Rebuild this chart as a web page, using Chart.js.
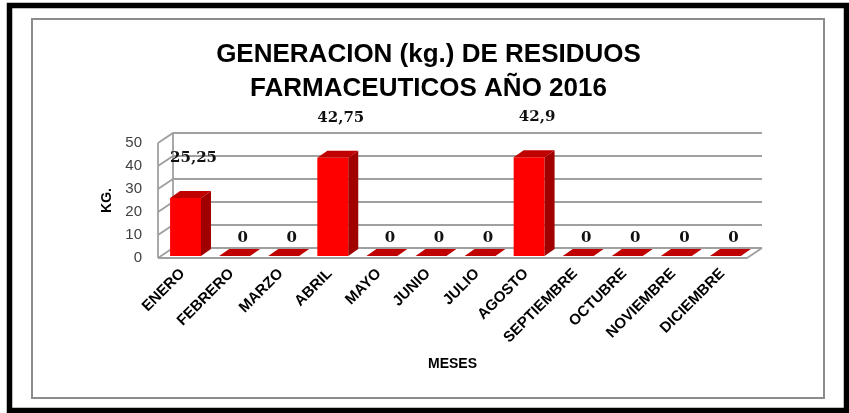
<!DOCTYPE html>
<html>
<head>
<meta charset="utf-8">
<title>Generacion de residuos farmaceuticos 2016</title>
<script src="https://cdn.jsdelivr.net/npm/chart.js@4.4.1/dist/chart.umd.min.js"></script>
<style>
  html, body { margin: 0; padding: 0; background: #fff; }
  canvas { display: block; }
</style>
</head>
<body>
<canvas id="chart" width="849" height="413"></canvas>
<script>
const months = ["ENERO", "FEBRERO", "MARZO", "ABRIL", "MAYO", "JUNIO", "JULIO",
                "AGOSTO", "SEPTIEMBRE", "OCTUBRE", "NOVIEMBRE", "DICIEMBRE"];
const kgValues = [25.25, 0, 0, 42.75, 0, 0, 0, 42.9, 0, 0, 0, 0];
const yTicks = [0, 10, 20, 30, 40, 50];
const titleLines = ["GENERACION (kg.) DE RESIDUOS", "FARMACEUTICOS AÑO 2016"];
const yAxisLabel = "KG.";
const xAxisLabel = "MESES";

// fake 3D: depth of the walls and of the bars
const WALL_DX = 15, WALL_DY = 10;
const BAR_DX = 10, BAR_DY = 7;
const BAR_SHIFT_X = 3, BAR_SHIFT_Y = 2;

Chart.defaults.font.family = "'Liberation Sans', Arial, sans-serif";

const fmt = v => String(v).replace(".", ",");

const frame3d = {
    id: "frame3d",
    beforeDraw(chart) {
        const ctx = chart.ctx;
        ctx.save();
        ctx.fillStyle = "#fff";
        ctx.fillRect(0, 0, chart.width, chart.height);
        // outer black frame + grey chart border
        ctx.strokeStyle = "#000";
        ctx.lineWidth = 5.5;
        ctx.strokeRect(9.5, 5.5, 837, 405);
        ctx.strokeStyle = "#8c8c8c";
        ctx.lineWidth = 2;
        ctx.strokeRect(32, 19, 792, 379);
        // title
        ctx.fillStyle = "#000";
        ctx.font = "bold 26px 'Liberation Sans', Arial, sans-serif";
        ctx.textAlign = "center";
        ctx.textBaseline = "middle";
        titleLines.forEach((t, i) => ctx.fillText(t, 428.5, 54.5 + i * 34));
        ctx.restore();
    },
    beforeDatasetsDraw(chart) {
        const { ctx, chartArea: a, scales: { y } } = chart;
        ctx.save();
        ctx.strokeStyle = "#a0a0a0";
        ctx.lineWidth = 1.8;
        ctx.beginPath();
        ctx.moveTo(a.left, a.bottom);
        ctx.lineTo(a.left, a.top);
        ctx.moveTo(a.left + WALL_DX, a.bottom - WALL_DY);
        ctx.lineTo(a.left + WALL_DX, a.top - WALL_DY);
        yTicks.forEach(v => {
            const yy = y.getPixelForValue(v);
            ctx.moveTo(a.left, yy);
            ctx.lineTo(a.left + WALL_DX, yy - WALL_DY);
            ctx.lineTo(a.right + WALL_DX, yy - WALL_DY);
        });
        // floor front edge and right edge
        ctx.moveTo(a.left, a.bottom);
        ctx.lineTo(a.right, a.bottom);
        ctx.lineTo(a.right + WALL_DX, a.bottom - WALL_DY);
        ctx.stroke();
        ctx.restore();

        // front faces are drawn by chart.js, pushed a bit into the box
        ctx.save();
        ctx.translate(BAR_SHIFT_X, -BAR_SHIFT_Y);
    },
    afterDatasetsDraw(chart) {
        const ctx = chart.ctx;
        ctx.restore();
        const yScale = chart.scales.y;
        const meta = chart.getDatasetMeta(0);

        ctx.save();
        meta.data.forEach(bar => {
            const { x, y, base, width } = bar.getProps(["x", "y", "base", "width"], true);
            const x1 = x - width / 2 + BAR_SHIFT_X;
            const x2 = x + width / 2 + BAR_SHIFT_X;
            const yt = y - BAR_SHIFT_Y;
            const yb = base - BAR_SHIFT_Y;

            // side
            ctx.fillStyle = "#a00000";
            ctx.beginPath();
            ctx.moveTo(x2, yt);
            ctx.lineTo(x2 + BAR_DX, yt - BAR_DY);
            ctx.lineTo(x2 + BAR_DX, yb - BAR_DY);
            ctx.lineTo(x2, yb);
            ctx.closePath();
            ctx.fill();

            // top
            ctx.fillStyle = "#c00000";
            ctx.beginPath();
            ctx.moveTo(x1, yt);
            ctx.lineTo(x1 + BAR_DX, yt - BAR_DY);
            ctx.lineTo(x2 + BAR_DX, yt - BAR_DY);
            ctx.lineTo(x2, yt);
            ctx.closePath();
            ctx.fill();
        });

        // value labels
        ctx.fillStyle = "#111";
        ctx.font = "bold 15px 'DejaVu Serif', serif";
        ctx.textAlign = "center";
        ctx.textBaseline = "middle";
        meta.data.forEach((bar, i) => {
            const v = kgValues[i];
            const ly = yScale.getPixelForValue(v) - (v > 0 ? 42 : 20);
            ctx.fillText(fmt(v), bar.x + 11, ly);
        });
        ctx.restore();
    }
};

new Chart(document.getElementById("chart"), {
    type: "bar",
    data: {
        labels: months,
        datasets: [{
            data: kgValues,
            backgroundColor: "#ff0000",
            borderWidth: 0,
            barPercentage: 0.63,
            categoryPercentage: 1
        }]
    },
    options: {
        responsive: false,
        animation: false,
        layout: { padding: { top: 143, right: 102, bottom: 0, left: 0 } },
        plugins: {
            legend: { display: false },
            tooltip: { enabled: false },
            title: { display: false }
        },
        scales: {
            x: {
                grid: { display: false, drawTicks: false },
                border: { display: false },
                ticks: {
                    autoSkip: false,
                    maxRotation: 45,
                    minRotation: 45,
                    padding: 7,
                    color: "#000",
                    font: { size: 15, weight: "bold" }
                },
                title: {
                    display: true,
                    text: xAxisLabel,
                    color: "#000",
                    font: { size: 14, weight: "bold" },
                    padding: { top: 0, bottom: 40.6 }
                },
                afterFit: s => { s.height = 155; }
            },
            y: {
                min: 0,
                max: 50,
                grid: { display: false, drawTicks: false },
                border: { display: false },
                ticks: {
                    stepSize: 10,
                    padding: 16,
                    color: "#404040",
                    font: { size: 15 }
                },
                title: {
                    display: true,
                    text: yAxisLabel,
                    color: "#000",
                    font: { size: 14, weight: "bold" },
                    padding: { top: 98.6, bottom: 0 }
                },
                afterFit: s => { s.width = 158; }
            }
        }
    },
    plugins: [frame3d]
});
</script>
</body>
</html>
